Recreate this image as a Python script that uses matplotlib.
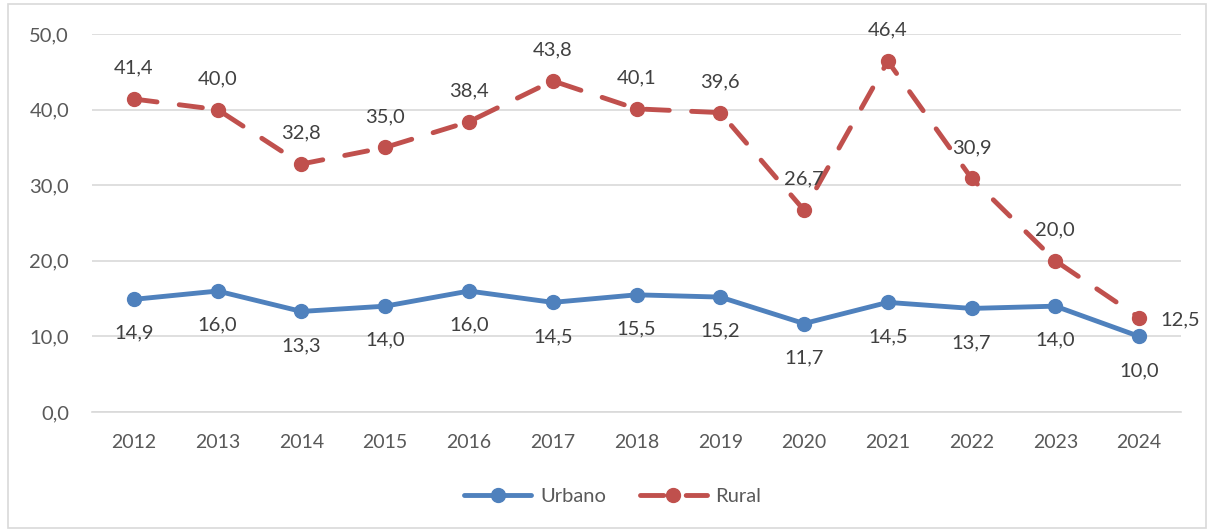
import matplotlib
matplotlib.use("Agg")
from matplotlib import pyplot as plt
from matplotlib.patches import Rectangle

years = ["2012", "2013", "2014", "2015", "2016", "2017", "2018",
         "2019", "2020", "2021", "2022", "2023", "2024"]
urbano = [14.9, 16.0, 13.3, 14.0, 16.0, 14.5, 15.5, 15.2, 11.7, 14.5, 13.7, 14.0, 10.0]
rural = [41.4, 40.0, 32.8, 35.0, 38.4, 43.8, 40.1, 39.6, 26.7, 46.4, 30.9, 20.0, 12.5]

BLUE = "#4F81BD"
RED = "#C0504D"
TXT = "#595959"
LBL = "#404040"
GRID = "#D9D9D9"

plt.rcParams["font.family"] = ["Lato", "DejaVu Sans"]


def fmt(v):
    return f"{v:.1f}".replace(".", ",")


fig = plt.figure(figsize=(12.12, 5.30), dpi=100)
ax = fig.add_axes([92 / 1212, 1 - 412 / 530, (1181 - 92) / 1212, (412 - 34) / 530])

x = list(range(len(years)))
ax.plot(x, urbano, color=BLUE, lw=3.5, marker="o", ms=10,
        solid_capstyle="round", solid_joinstyle="round", label="Urbano", zorder=3)
ax.plot(x, rural, color=RED, lw=3.5, marker="o", ms=10, ls=(0, (4.8, 4.6)),
        dash_capstyle="round", label="Rural", zorder=3)

# urban labels below the points, rural above (last rural one to the right)
for i, v in enumerate(urbano):
    ax.annotate(fmt(v), (i, v), xytext=(0, -34), textcoords="offset pixels",
                ha="center", va="center", fontsize=14.5, color=LBL)
for i, v in enumerate(rural):
    if i == len(rural) - 1:
        ax.annotate(fmt(v), (i, v), xytext=(21, -2), textcoords="offset pixels",
                    ha="left", va="center", fontsize=14.5, color=LBL)
    else:
        ax.annotate(fmt(v), (i, v), xytext=(0, 31), textcoords="offset pixels",
                    ha="center", va="center", fontsize=14.5, color=LBL)

ax.set_xlim(-0.5, len(years) - 0.5)
ax.set_ylim(0, 50)
ax.set_yticks([0, 10, 20, 30, 40, 50])
ax.set_yticklabels([fmt(t) for t in [0, 10, 20, 30, 40, 50]])
ax.set_xticks(x)
ax.set_xticklabels(years)
ax.tick_params(axis="both", length=0, colors=TXT)
ax.tick_params(axis="y", pad=16.5, labelsize=14.5)
ax.tick_params(axis="x", pad=16, labelsize=14)
ax.grid(axis="y", color=GRID, lw=1.2)
ax.set_axisbelow(True)
for s in ["top", "right", "left"]:
    ax.spines[s].set_visible(False)
ax.spines["bottom"].set_color(GRID)
ax.spines["bottom"].set_linewidth(1.2)

leg = fig.legend(loc="center", bbox_to_anchor=(613 / 1212, 1 - 496 / 530), ncol=2,
                 frameon=False, fontsize=14.5, handlelength=3.3, columnspacing=1.7,
                 handletextpad=0.45)
for t in leg.get_texts():
    t.set_color(TXT)

fig.patches.append(Rectangle((8 / 1212, 2 / 530), 1198 / 1212, 524 / 530,
                             transform=fig.transFigure, fill=False,
                             edgecolor=GRID, lw=1.2))

fig.savefig("out.png", dpi=100)
